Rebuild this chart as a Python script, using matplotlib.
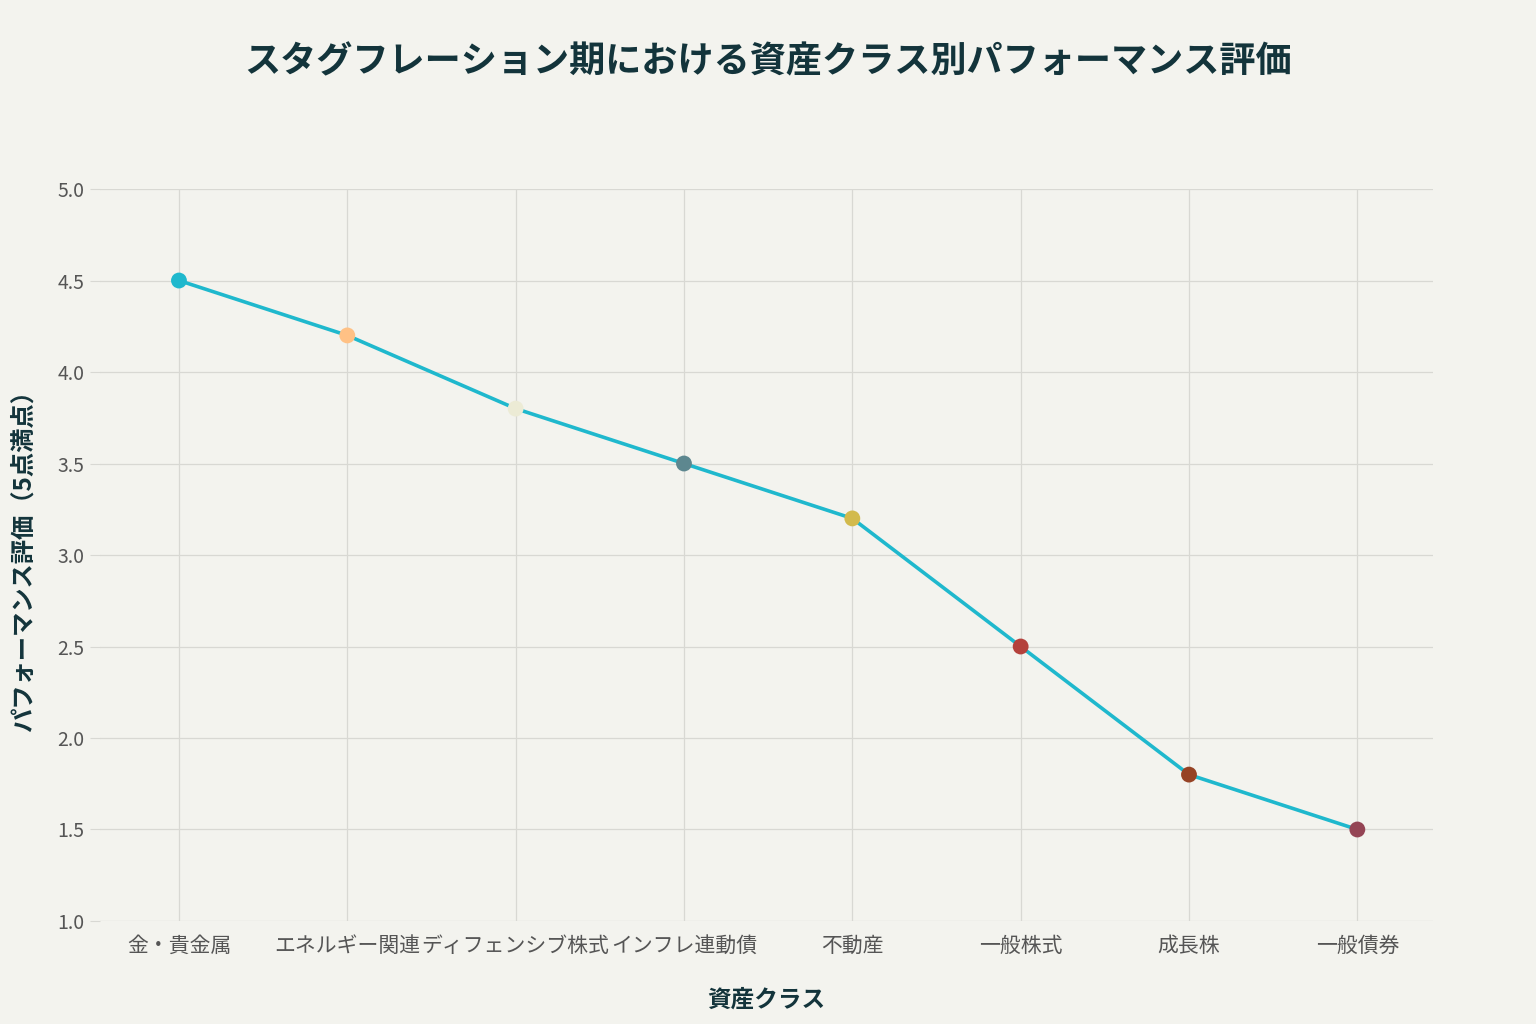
import matplotlib
matplotlib.use("Agg")
import matplotlib.pyplot as plt

plt.rcParams['font.family'] = ['Noto Sans CJK JP', 'DejaVu Sans']

# data
assets = ['金・貴金属', 'エネルギー関連', 'ディフェンシブ株式', 'インフレ連動債',
          '不動産', '一般株式', '成長株', '一般債券']
scores = [4.5, 4.2, 3.8, 3.5, 3.2, 2.5, 1.8, 1.5]
marker_colors = ['#1FB8CD', '#FFC185', '#ECEBD5', '#5D878F',
                 '#D2BA4C', '#B4413C', '#964325', '#944454']
y_ticks = [1.0, 1.5, 2.0, 2.5, 3.0, 3.5, 4.0, 4.5, 5.0]

bg = '#F3F3EE'
fig = plt.figure(figsize=(15.36, 10.24), dpi=100, facecolor=bg)
ax = fig.add_axes([0.065, 0.1006, 0.868, 0.7148], facecolor=bg)

x = list(range(len(assets)))
ax.plot(x, scores, color='#1FB8CD', linewidth=2.6, zorder=2)
ax.scatter(x, scores, c=marker_colors, s=130, zorder=3, linewidths=0)

ax.set_xlim(-0.47, 7.45)
ax.set_ylim(1.0, 5.0)
ax.set_xticks(x)
ax.set_xticklabels(assets, fontsize=15, color='#555555')
ax.set_yticks(y_ticks)
ax.set_yticklabels([f'{v:.1f}' for v in y_ticks], fontsize=14, color='#555555')
ax.grid(True, color='#D8D8D3', linewidth=0.9)
ax.set_axisbelow(True)
for s in ax.spines.values():
    s.set_visible(False)
ax.tick_params(axis='y', length=7, color='#D8D8D3', pad=4)
ax.tick_params(axis='x', length=0, pad=10)

ax.set_xlabel('資産クラス', fontsize=17, fontweight='bold', color='#13343B', labelpad=22)
ax.set_ylabel('パフォーマンス評価（5点満点）', fontsize=17.5, fontweight='bold',
              color='#13343B', labelpad=16)

fig.text(0.5, 0.94, 'スタグフレーション期における資産クラス別パフォーマンス評価',
         ha='center', va='center', fontsize=26, fontweight='bold', color='#13343B')

fig.savefig('out.png', dpi=100, facecolor=bg)
